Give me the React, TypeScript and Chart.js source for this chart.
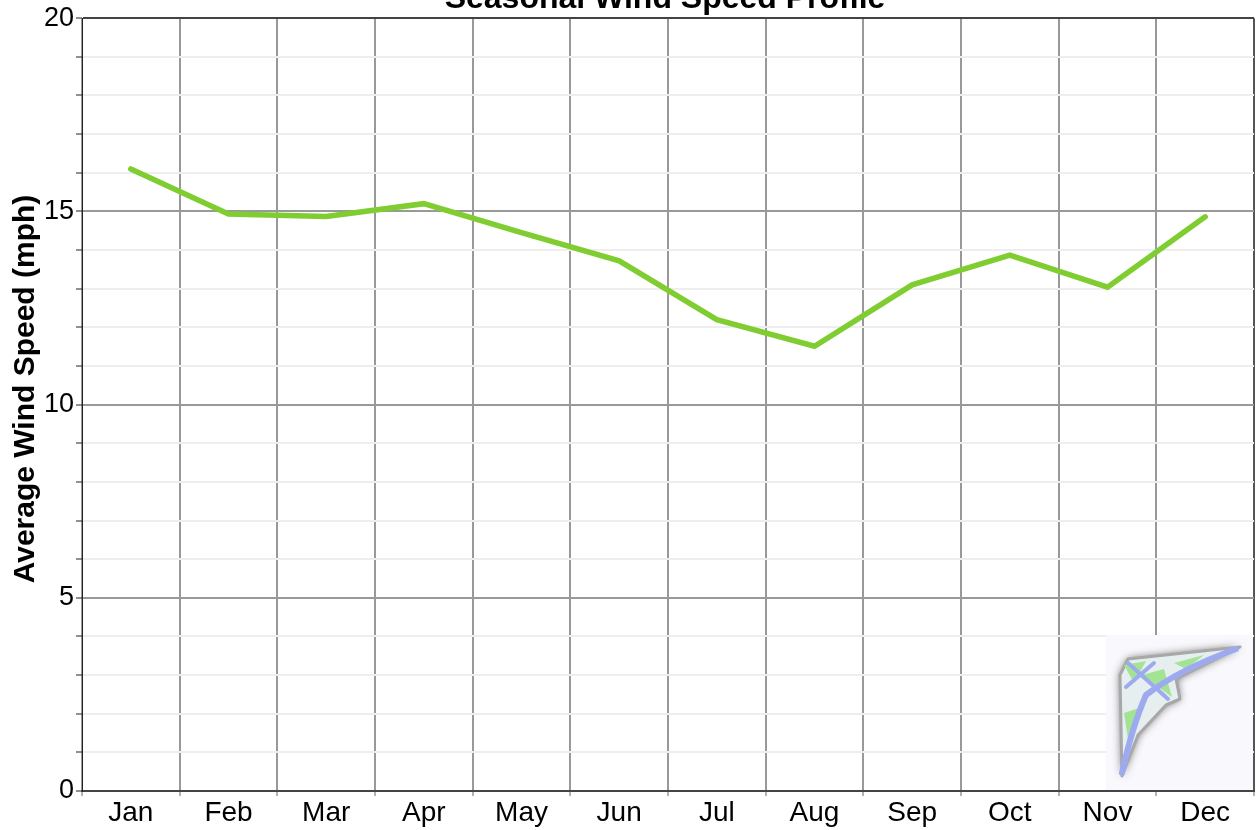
import React, { useEffect, useRef } from "react";
import { Chart, registerables } from "chart.js";

Chart.register(...registerables);

const months = ["Jan", "Feb", "Mar", "Apr", "May", "Jun", "Jul", "Aug", "Sep", "Oct", "Nov", "Dec"];
const windSpeed = [16.1, 14.93, 14.87, 15.2, 14.45, 13.72, 12.2, 11.51, 13.1, 13.87, 13.04, 14.86];
const yMin = 0;
const yMax = 20;
const yMajorStep = 5;
const chartTitle = "Seasonal Wind Speed Profile";
const yAxisTitle = "Average Wind Speed (mph)";

const FONT = '"Liberation Sans", Arial, Helvetica, sans-serif';

const titlePlugin = {
  id: "cutTitle",
  afterDraw(chart: any) {
    const { ctx, chartArea } = chart;
    ctx.save();
    ctx.font = `bold 32px ${FONT}`;
    ctx.fillStyle = "#000";
    ctx.textAlign = "center";
    ctx.textBaseline = "alphabetic";
    ctx.fillText(chartTitle, 665, 8);
    // y-axis title
    ctx.translate(34, 389);
    ctx.rotate(-Math.PI / 2);
    ctx.font = `bold 30px ${FONT}`;
    ctx.textBaseline = "alphabetic";
    ctx.fillText(yAxisTitle, 0, 0);
    ctx.restore();
  },
};

const logoPlugin = {
  id: "logo",
  afterDraw(chart: any) {
    const { ctx, chartArea } = chart;
    const x0 = chartArea.right - 148;
    const y0 = chartArea.bottom - 156;
    ctx.save();
    ctx.fillStyle = "#f9f8fc";
    ctx.fillRect(x0, y0, 147, 155);
    const P = (dx: number, dy: number) => [x0 + dx, y0 + dy];
    const path = (pts: number[][]) => {
      ctx.beginPath();
      pts.forEach((q, i) => { const r = P(q[0], q[1]); if (i === 0) ctx.moveTo(r[0], r[1]); else ctx.lineTo(r[0], r[1]); });
      ctx.closePath();
    };
    // kite body with blurred grey rim
    ctx.shadowColor = "rgba(80,80,80,0.9)";
    ctx.shadowBlur = 8;
    path([[16, 141], [14, 40], [22, 24], [134, 12], [70, 44], [74, 64], [60, 70], [32, 100]]);
    ctx.fillStyle = "#e6eef0";
    ctx.fill();
    ctx.shadowBlur = 0;
    ctx.strokeStyle = "#a8a8a8";
    ctx.lineWidth = 3;
    ctx.lineJoin = "round";
    ctx.stroke();
    // green panels
    ctx.fillStyle = "#a3e394";
    path([[18, 30], [40, 26], [28, 48]]); ctx.fill();
    path([[36, 40], [58, 34], [66, 62]]); ctx.fill();
    path([[68, 28], [98, 20], [80, 34]]); ctx.fill();
    path([[18, 78], [36, 72], [22, 104]]); ctx.fill();
    // blue spars
    ctx.strokeStyle = "#9eaaf0";
    ctx.lineWidth = 6;
    ctx.lineCap = "round";
    ctx.beginPath();
    let p = P(16, 138); ctx.moveTo(p[0], p[1]);
    p = P(26, 92); let c = P(40, 60); ctx.quadraticCurveTo(p[0], p[1], c[0], c[1]);
    p = P(74, 34); c = P(130, 14); ctx.quadraticCurveTo(p[0], p[1], c[0], c[1]);
    ctx.stroke();
    ctx.lineWidth = 4;
    ctx.beginPath();
    p = P(22, 28); ctx.moveTo(p[0], p[1]);
    p = P(62, 64); ctx.lineTo(p[0], p[1]);
    p = P(20, 52); ctx.moveTo(p[0], p[1]);
    p = P(48, 28); ctx.lineTo(p[0], p[1]);
    ctx.stroke();
    ctx.restore();
  },
};

export default function App() {
  const ref = useRef<HTMLCanvasElement | null>(null);

  useEffect(() => {
    document.body.style.margin = "0";
    const canvas = ref.current;
    if (!canvas) return;
    const chart = new Chart(canvas, {
      type: "line",
      data: {
        labels: months,
        datasets: [
          {
            data: windSpeed,
            borderColor: "#7fcd31",
            borderWidth: 5.5,
            pointRadius: 0,
            pointHoverRadius: 0,
            tension: 0,
            borderCapStyle: "round",
            borderJoinStyle: "miter",
            fill: false,
          },
        ],
      },
      options: {
        animation: false,
        responsive: false,
        devicePixelRatio: 1,
        layout: { padding: { top: 16, right: 6, left: 0, bottom: 0 } },
        plugins: {
          legend: { display: false },
          title: { display: false },
          tooltip: { enabled: false },
        },
        scales: {
          x: {
            type: "category",
            offset: true,
            afterFit: (s: any) => { s.height = 39; },
            grid: {
              offset: true,
              color: (ctx: any) => (ctx.type !== "tick" ? "#555" : "#999"),
              lineWidth: 2,
              drawTicks: true,
              tickLength: 5,
              tickColor: "#666",
              tickWidth: 1,
            },
            border: { display: true, color: "#444", width: 2 },
            ticks: {
              color: "#000",
              font: { family: FONT, size: 28 },
              padding: 0,
              maxRotation: 0,
              autoSkip: false,
            },
          },
          y: {
            min: yMin,
            max: yMax,
            afterFit: (s: any) => { s.width = 82; },
            grid: {
              color: (ctx: any) => {
                const v = ctx.tick ? ctx.tick.value : 0;
                if (v === yMax) return "#444";
                return v % yMajorStep === 0 ? "#999" : "#eeeeee";
              },
              lineWidth: 2,
              drawTicks: true,
              tickLength: 6,
              tickColor: "#222",
              tickWidth: 1,
            },
            border: { display: true, color: "#222", width: 1 },
            ticks: {
              stepSize: 1,
              autoSkip: false,
              color: "#000",
              font: { family: FONT, size: 27 },
              padding: 2,
              callback: (v: any) => (Number(v) % yMajorStep === 0 ? String(v) : ""),
            },
            title: { display: false },
          },
        },
      },
      plugins: [titlePlugin, logoPlugin],
    } as any);
    return () => chart.destroy();
  }, []);

  return (
    <div style={{ position: "absolute", left: 0, top: 0, width: 1260, height: 830 }}>
      <canvas ref={ref} width={1260} height={830} />
    </div>
  );
}
